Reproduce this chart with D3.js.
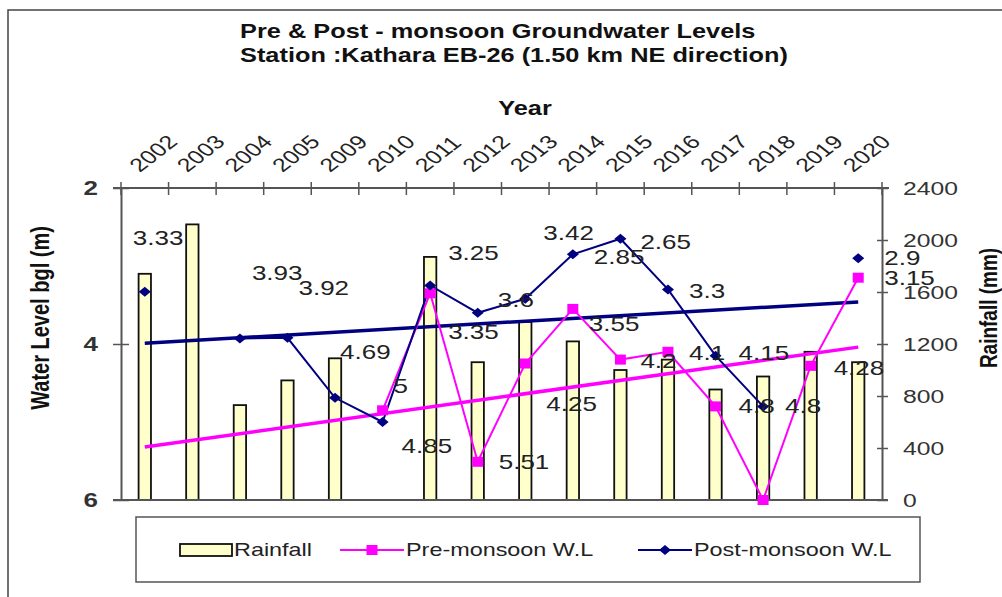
<!DOCTYPE html>
<html>
<head>
<meta charset="utf-8">
<script src="https://cdn.jsdelivr.net/npm/d3@7"></script>
<style>
  html, body { margin: 0; padding: 0; background: #fff; }
  svg { display: block; font-family: "Liberation Sans", Arial, sans-serif; }
</style>
</head>
<body>
<svg id="chart" width="1002" height="597"></svg>
<script>
// Observation years (category axis, drawn along the top)
const years = ["2002","2003","2004","2005","2009","2010","2011","2012","2013","2014","2015","2016","2017","2018","2019","2020"];

// Annual rainfall (mm), right axis
const rainfall = [1740, 2120, 730, 920, 1090, null, 1870, 1060, 1370, 1220, 1000, 1080, 850, 950, 1140, 1060];

// Water level below ground (m), left axis (reversed)
const preMonsoon  = [null, null, null, null, null, 4.85, 3.35, 5.51, 4.25, 3.55, 4.2, 4.1, 4.8, 6, 4.28, 3.15];
const postMonsoon = [3.33, null, 3.93, 3.92, 4.69, 5, 3.25, 3.6, 3.42, 2.85, 2.65, 3.3, 4.15, 4.8, null, 2.9];

// Linear trend values at the first and last year
const preTrend  = [5.32, 4.04];
const postTrend = [3.99, 3.46];

// Axis tick values
const levelTicks = [2, 4, 6];
const rainTicks  = [0, 400, 800, 1200, 1600, 2000, 2400];

// Data-label nudges (dx, dy) so labels don't sit on the markers
const postLabelNudge = [[-12,-54],null,[12,-66],[11,-50],[5,-46],[11,-36],[18,-33],[20,-13],[18,-66],[21,3],[20,3],[21,2],[23,-3],[22,0],null,[26,0]];
const preLabelNudge  = [null,null,null,null,null,[19,36],[18,39],[21,0],[21,40],[16,15],[20,1],[21,1],[23,0],null,[23,2],[26,0]];

const SX = 1.3;           // horizontal stretch applied to all lettering
const PINK = "#ff00ff", NAVY = "#000080", AXIS = "#555", INK = "#222";

const svg = d3.select("#chart");
svg.append("rect").attr("width", 1002).attr("height", 597).attr("fill", "#fff");

// outer chart frame
svg.append("path").attr("d", "M8,597 V10 H1002").attr("fill", "none").attr("stroke", "#444").attr("stroke-width", 1.5);

const plotL = 121, plotR = 882, plotT = 188, plotB = 500;

const x = d3.scaleBand().domain(years).range([plotL, plotR]).paddingInner(0.74).paddingOuter(0.37);
const cx = d => x(d) + x.bandwidth() / 2;
const yL = d3.scaleLinear().domain([2, 6]).range([plotT, plotB]);
const yR = d3.scaleLinear().domain([0, 2400]).range([plotB, plotT]);

function stretched(sel, tx, ty, rot) {
  sel.attr("transform", `translate(${tx},${ty}) scale(${SX},1)` + (rot ? ` rotate(${rot})` : ""));
}

// ---- titles
const title = svg.append("g").attr("font-weight", "bold").attr("font-size", 19.5).attr("fill", "#111");
title.append("text").text("Pre & Post - monsoon Groundwater Levels").call(stretched, 240, 38);
title.append("text").text("Station :Kathara EB-26 (1.50 km NE direction)").call(stretched, 240, 62);
title.append("text").text("Year").attr("text-anchor", "middle").call(stretched, 525, 115);

svg.append("text").text("Water Level bgl (m)").attr("font-weight", "bold").attr("font-size", 20)
  .attr("text-anchor", "middle").attr("fill", "#111").call(stretched, 49, 318, -90);
svg.append("text").text("Rainfall (mm)").attr("font-weight", "bold").attr("font-size", 19)
  .attr("text-anchor", "middle").attr("fill", "#111").call(stretched, 997, 308, -90);

// ---- rainfall bars
svg.append("g").selectAll("rect")
  .data(years.map((yr, i) => ({ yr, v: rainfall[i] })).filter(d => d.v != null))
  .join("rect")
  .attr("x", d => x(d.yr)).attr("width", x.bandwidth())
  .attr("y", d => yR(d.v)).attr("height", d => yR(0) - yR(d.v))
  .attr("fill", "#ffffcc").attr("stroke", "#111").attr("stroke-width", 1.8);

// ---- axes
const gLeft = svg.append("g").attr("transform", `translate(${plotL},0)`)
  .call(d3.axisLeft(yL).tickValues(levelTicks).tickSize(8).tickSizeOuter(0).tickFormat(d3.format("d")));
const gRight = svg.append("g").attr("transform", `translate(${plotR},0)`)
  .call(d3.axisRight(yR).tickValues(rainTicks).tickSize(6).tickSizeOuter(0).tickFormat(d3.format("d")));
const gTop = svg.append("g").attr("transform", `translate(0,${plotT})`)
  .call(d3.axisTop(x).tickSize(0).tickSizeOuter(0));

[gLeft, gRight, gTop].forEach(g => {
  g.select(".domain").attr("stroke", AXIS).attr("stroke-width", 2);
  g.selectAll(".tick line").attr("stroke", AXIS).attr("stroke-width", 1.5);
});
gLeft.selectAll(".tick line").attr("x1", 8).attr("x2", -8);
gRight.selectAll(".tick line").attr("x1", -5).attr("x2", 6);

gLeft.selectAll(".tick text").each(function () {
  d3.select(this).attr("x", null).attr("font-size", 20).attr("font-weight", "bold")
    .attr("fill", "#333").attr("font-family", null).call(stretched, -23, 0);
});
gRight.selectAll(".tick text").each(function () {
  d3.select(this).attr("x", null).attr("font-size", 19).attr("fill", "#333")
    .attr("font-family", null).call(stretched, 21, 0);
});
gTop.select(".domain").attr("d", `M${plotL - 8},0H${plotR + 7}`);
gTop.selectAll(".tick text").each(function () {
  d3.select(this).attr("x", null).attr("y", null).attr("dy", null).attr("text-anchor", "start")
    .attr("font-size", 19).attr("fill", "#222").attr("font-family", null).call(stretched, -5, -15, -45);
});

// category boundary ticks on the top axis
svg.append("g").selectAll("line").data(d3.range(years.length + 1)).join("line")
  .attr("x1", i => plotL + i * x.step()).attr("x2", i => plotL + i * x.step())
  .attr("y1", plotT - 6).attr("y2", plotT + 7).attr("stroke", AXIS).attr("stroke-width", 1.5);

// bottom edge of the plot area
svg.append("line").attr("x1", plotL - 8).attr("x2", plotR + 6).attr("y1", plotB).attr("y2", plotB)
  .attr("stroke", AXIS).attr("stroke-width", 2);

// ---- trend lines
const trendX = [years[0], years[years.length - 1]];
const trendLine = d3.line().x(d => cx(d.yr)).y(d => yL(d.v));
svg.append("path").datum(trendX.map((yr, i) => ({ yr, v: preTrend[i] })))
  .attr("d", trendLine).attr("stroke", PINK).attr("stroke-width", 3.5).attr("fill", "none");
svg.append("path").datum(trendX.map((yr, i) => ({ yr, v: postTrend[i] })))
  .attr("d", trendLine).attr("stroke", NAVY).attr("stroke-width", 3.5).attr("fill", "none");

// ---- water level series
const seriesLine = d3.line().defined(d => d.v != null).x(d => cx(d.yr)).y(d => yL(d.v));
const preData  = years.map((yr, i) => ({ yr, v: preMonsoon[i], nudge: preLabelNudge[i] }));
const postData = years.map((yr, i) => ({ yr, v: postMonsoon[i], nudge: postLabelNudge[i] }));

svg.append("path").datum(preData).attr("d", seriesLine).attr("stroke", PINK).attr("stroke-width", 2).attr("fill", "none");
svg.append("path").datum(postData).attr("d", seriesLine).attr("stroke", NAVY).attr("stroke-width", 2).attr("fill", "none");

svg.append("g").selectAll("rect").data(preData.filter(d => d.v != null)).join("rect")
  .attr("x", d => cx(d.yr) - 5.5).attr("y", d => yL(d.v) - 5).attr("width", 11).attr("height", 10)
  .attr("fill", PINK);
svg.append("g").selectAll("path").data(postData.filter(d => d.v != null)).join("path")
  .attr("d", d => { const px = cx(d.yr), py = yL(d.v); return `M${px - 6},${py}L${px},${py - 5}L${px + 6},${py}L${px},${py + 5}Z`; })
  .attr("fill", NAVY);

// ---- data labels
const labels = svg.append("g").attr("font-size", 20).attr("fill", INK);
[...postData, ...preData].filter(d => d.v != null && d.nudge).forEach(d => {
  labels.append("text").text(String(d.v)).attr("dy", "0.35em")
    .call(stretched, cx(d.yr) + d.nudge[0], yL(d.v) + d.nudge[1]);
});

// ---- legend
const lg = svg.append("g");
lg.append("rect").attr("x", 136).attr("y", 517).attr("width", 784).attr("height", 65)
  .attr("fill", "#fff").attr("stroke", "#555").attr("stroke-width", 1.5);
const ly = 550;
lg.append("rect").attr("x", 180).attr("y", ly - 6).attr("width", 52).attr("height", 12)
  .attr("fill", "#ffffcc").attr("stroke", "#111").attr("stroke-width", 1.8);
lg.append("text").text("Rainfall").attr("font-size", 18).attr("fill", INK).attr("dy", "0.35em").call(stretched, 234, ly);

lg.append("line").attr("x1", 340).attr("x2", 404).attr("y1", ly).attr("y2", ly).attr("stroke", PINK).attr("stroke-width", 2);
lg.append("rect").attr("x", 366.5).attr("y", ly - 5).attr("width", 11).attr("height", 10).attr("fill", PINK);
lg.append("text").text("Pre-monsoon W.L").attr("font-size", 18).attr("fill", INK).attr("dy", "0.35em").call(stretched, 406, ly);

lg.append("line").attr("x1", 638).attr("x2", 692).attr("y1", ly).attr("y2", ly).attr("stroke", NAVY).attr("stroke-width", 2);
lg.append("path").attr("d", `M659,${ly}L665,${ly - 5}L671,${ly}L665,${ly + 5}Z`).attr("fill", NAVY);
lg.append("text").text("Post-monsoon W.L").attr("font-size", 18).attr("fill", INK).attr("dy", "0.35em").call(stretched, 694, ly);
</script>
</body>
</html>
